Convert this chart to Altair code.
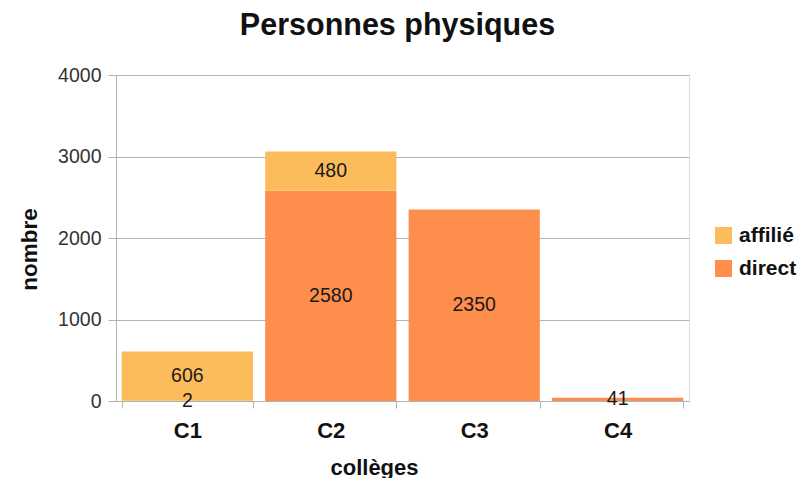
import altair as alt
import pandas as pd

colleges = ["C1", "C2", "C3", "C4"]
direct = [2, 2580, 2350, 41]
affilie = [606, 480, 0, 0]
series = ["affilié", "direct"]
colors = ["#FDBC5B", "#FE8E4C"]

rows = []
for i, c in enumerate(colleges):
    rows.append({"college": c, "type": "direct", "valeur": direct[i], "ord": 0})
    rows.append({"college": c, "type": "affilié", "valeur": affilie[i], "ord": 1})
df = pd.DataFrame(rows)

base = alt.Chart(df).transform_stack(
    stack="valeur", groupby=["college"], as_=["y0", "y1"],
    sort=[alt.SortField("ord", order="ascending")]
).transform_calculate(mid="(datum.y0 + datum.y1) / 2")

xenc = alt.X(
    "college:N", sort=colleges,
    scale=alt.Scale(paddingInner=0.085, paddingOuter=0.04),
    axis=alt.Axis(
        title="collèges", titleFontSize=22, titleFontWeight="bold", titleColor="#111",
        titleX=258, titleY=73, titleAlign="center", titleBaseline="alphabetic",
        labelFontSize=22, labelFontWeight="bold", labelColor="#111", labelAngle=0,
        labelBaseline="alphabetic", labelPadding=29, tickSize=7,
        tickBand="extent", grid=False, domainColor="#b3b3b3", tickColor="#b3b3b3",
    ),
)

bars = base.mark_bar(stroke=None).encode(
    x=xenc,
    y=alt.Y(
        "y0:Q",
        scale=alt.Scale(domain=[0, 4000], nice=False),
        axis=alt.Axis(
            title="nombre", titleFontSize=22.5, titleFontWeight="bold", titleColor="#111",
            titleX=-87, titleY=174, titleAlign="center", titleBaseline="middle", titleAngle=270,
            values=[0, 1000, 2000, 3000, 4000], format="d", labelFontSize=19.5, labelColor="#333",
            labelPadding=7, tickSize=8, grid=True, gridColor="#b3b3b3",
            domainColor="#b3b3b3", tickColor="#b3b3b3",
        ),
    ),
    y2="y1:Q",
    color=alt.Color(
        "type:N",
        scale=alt.Scale(domain=series, range=colors),
        legend=alt.Legend(
            title=None, orient="none", legendX=597, legendY=150,
            labelFontSize=21, labelFontWeight="bold", labelColor="#111",
            symbolType="square", symbolSize=289, symbolStrokeWidth=0,
            labelOffset=5, rowPadding=11, labelLimit=0,
        ),
    ),
)

labels = base.transform_filter("datum.valeur > 0").mark_text(
    fontSize=19.5, color="#1a1a1a", baseline="middle", align="center"
).encode(
    x=alt.X("college:N", sort=colleges),
    y=alt.Y("mid:Q"),
    text=alt.Text("valeur:Q"),
)

chart = alt.layer(bars, labels).properties(
    width=573, height=326,
    autosize=alt.AutoSizeParams(type="none"),
    padding={"left": 108, "top": 67, "right": 109, "bottom": 77},
    title=alt.TitleParams(
        "Personnes physiques", fontSize=30.5, fontWeight="bold", color="#111",
        anchor="middle", dx=-5, offset=24,
    ),
).configure_view(stroke="#b3b3b3").configure(font="Liberation Sans")

chart.save("out.html", embed_options={"renderer": "svg", "actions": False})
